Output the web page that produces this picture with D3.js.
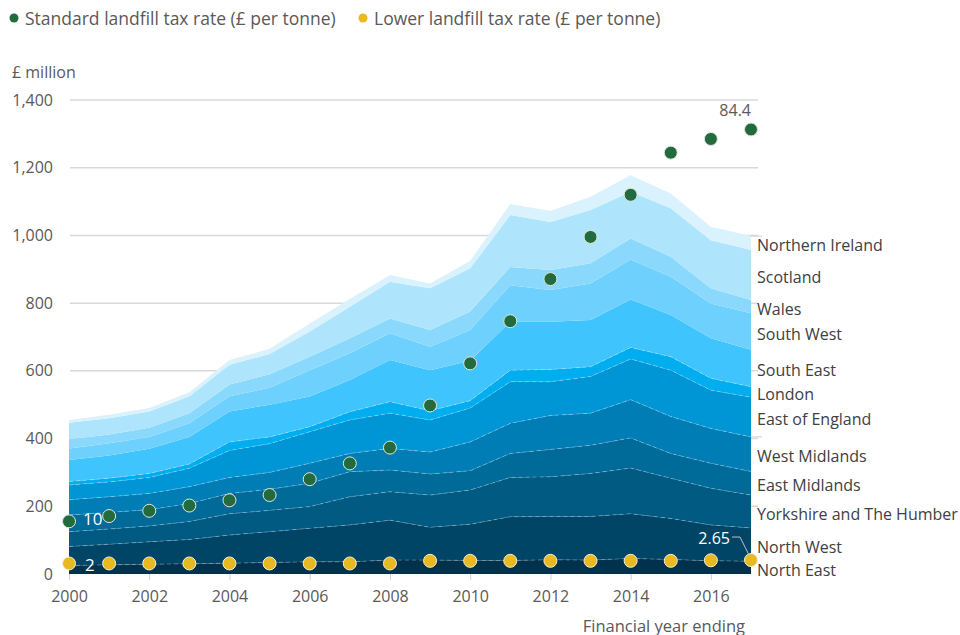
<!DOCTYPE html>
<html>
<head>
<meta charset="utf-8">
<script src="https://cdn.jsdelivr.net/npm/d3@7"></script>
<style>
  body { margin: 0; background: #fff; }
  text { font-family: "Open Sans", sans-serif; }
</style>
</head>
<body>
<svg id="chart" width="960" height="635"></svg>
<script>
// Financial year ending
const years = [2000, 2001, 2002, 2003, 2004, 2005, 2006, 2007, 2008,
               2009, 2010, 2011, 2012, 2013, 2014, 2015, 2016, 2017];

// Landfill tax receipts by region, £ million (stacked bottom to top)
const regions = ["North East", "North West", "Yorkshire and The Humber", "East Midlands",
                 "West Midlands", "East of England", "London", "South East", "South West",
                 "Wales", "Scotland", "Northern Ireland"];

const northEast   = [25, 27, 29, 30, 32, 34, 36, 36, 41, 41, 40, 40, 42, 41, 46, 43, 39, 38];
const northWest   = [56, 61, 66, 72, 83, 91, 99, 109, 118, 97, 107, 129, 128, 129, 132, 121, 106, 98];
const yorkshire   = [44, 45, 47, 53, 63, 63, 64, 83, 84, 95, 101, 116, 117, 127, 135, 119, 108, 97];
const eastMids    = [49, 49, 48, 53, 60, 62, 69, 74, 64, 62, 57, 71, 81, 83, 89, 73, 74, 70];
const westMids    = [45, 46, 48, 50, 47, 50, 59, 54, 64, 65, 85, 89, 100, 95, 113, 109, 103, 102];
const eastEngland = [44, 44, 47, 54, 80, 85, 93, 99, 104, 95, 100, 123, 100, 108, 120, 137, 113, 117];
const london      = [10, 11, 12, 13, 25, 20, 15, 24, 34, 27, 22, 34, 36, 29, 34, 40, 35, 31];
const southEast   = [64, 67, 73, 80, 90, 95, 89, 94, 123, 120, 118, 143, 141, 138, 142, 123, 118, 109];
const southWest   = [34, 36, 35, 40, 45, 50, 78, 79, 79, 69, 91, 108, 94, 108, 118, 113, 103, 108];
const wales       = [27, 26, 27, 30, 35, 40, 40, 44, 44, 50, 54, 54, 59, 60, 62, 59, 45, 39];
const scotland    = [49, 48, 48, 50, 58, 60, 74, 93, 108, 123, 128, 153, 142, 157, 138, 143, 142, 148];
const northernIrl = [8, 10, 10, 12, 14, 15, 24, 23, 20, 14, 22, 33, 32, 39, 49, 44, 40, 41];

// Landfill tax rates, £ per tonne
const standardRate = [10, 11, 12, 13, 14, 15, 18, 21, 24, 32, 40, 48, 56, 64, 72, 80, 82.6, 84.4];
const lowerRate    = [2, 2, 2, 2, 2, 2, 2, 2, 2, 2.5, 2.5, 2.5, 2.5, 2.5, 2.5, 2.5, 2.6, 2.65];

const yTicks = [0, 200, 400, 600, 800, 1000, 1200, 1400];
const xTicks = [2000, 2002, 2004, 2006, 2008, 2010, 2012, 2014, 2016];

const regionColours = ["#00324d", "#004566", "#005a82", "#006a99", "#007db5", "#0096d6",
                       "#00aeef", "#40c4fe", "#6dd0fd", "#8ad9fc", "#aee5fc", "#d9f2fd"];

const series = [northEast, northWest, yorkshire, eastMids, westMids, eastEngland,
                london, southEast, southWest, wales, scotland, northernIrl];

const table = years.map((yr, i) => {
  const row = { year: yr };
  regions.forEach((r, k) => { row[r] = series[k][i]; });
  return row;
});

const svg = d3.select("#chart");
const x = d3.scaleLinear().domain([2000, 2017]).range([69, 751]);
const y = d3.scaleLinear().domain([0, 1400]).range([574, 100]);
// Tax rate drawn against a secondary scale sharing the same vertical extent
const yRate = d3.scaleLinear().domain([0, 90]).range([574, 100]);

const grey = "#595959";

// Gridlines and y axis labels
const yAxis = d3.axisLeft(y).tickValues(yTicks).tickFormat(d3.format(",")).tickSize(0).tickPadding(0);
const yg = svg.append("g").attr("transform", "translate(53,0)").call(yAxis);
yg.select(".domain").remove();
yg.selectAll("text").attr("fill", grey).style("font-size", "16px").attr("font-family", "Open Sans");

svg.append("g").selectAll("line").data(yTicks.filter(d => d > 0)).join("line")
  .attr("x1", 70).attr("x2", 758)
  .attr("y1", d => y(d)).attr("y2", d => y(d))
  .attr("stroke", "#d9d9d9").attr("stroke-width", 1.5);

// Stacked areas
const stack = d3.stack().keys(regions);
const layers = stack(table);

const area = d3.area()
  .x(d => x(d.data.year))
  .y0(d => y(d[0]))
  .y1(d => y(d[1]));

svg.append("g").selectAll("path").data(layers).join("path")
  .attr("d", area)
  .attr("fill", (d, i) => regionColours[i]);

// Faint dashed separators between the lower bands
const boundary = d3.line().x(d => x(d.data.year)).y(d => y(d[1]));
svg.append("g").selectAll("path").data(layers.slice(0, 7)).join("path")
  .attr("d", boundary)
  .attr("fill", "none")
  .attr("stroke", "rgba(255,255,255,0.28)")
  .attr("stroke-width", 1)
  .attr("stroke-dasharray", "4,3");

// X axis
const xAxis = d3.axisBottom(x).tickValues(xTicks).tickFormat(d3.format("d")).tickSize(6).tickPadding(11);
const xg = svg.append("g").attr("transform", "translate(0,574)").call(xAxis);
xg.select(".domain").remove();
xg.selectAll("line").attr("stroke", "#d0d0d0");
xg.selectAll("text").attr("fill", grey).style("font-size", "16px").attr("font-family", "Open Sans");

// Tax rate points
const ratePoints = svg.append("g");
ratePoints.selectAll("circle.std").data(standardRate).join("circle")
  .attr("class", "std")
  .attr("cx", (d, i) => x(years[i])).attr("cy", d => yRate(d))
  .attr("r", 6.5).attr("fill", "#226b3e").attr("stroke", "#e6e6dc").attr("stroke-width", 1);
ratePoints.selectAll("circle.low").data(lowerRate).join("circle")
  .attr("class", "low")
  .attr("cx", (d, i) => x(years[i])).attr("cy", d => yRate(d))
  .attr("r", 6.5).attr("fill", "#e8b920").attr("stroke", "#f4f0dc").attr("stroke-width", 1);

// Value callouts on the rate series
const last = years.length - 1;
svg.append("text").attr("x", x(years[0]) + 14).attr("y", yRate(standardRate[0]) - 3)
  .attr("dominant-baseline", "central").attr("fill", "#fff").style("font-size", "17px")
  .text(standardRate[0]);
svg.append("text").attr("x", x(years[0]) + 16).attr("y", yRate(lowerRate[0]) + 1)
  .attr("dominant-baseline", "central").attr("fill", "#fff").style("font-size", "17px")
  .text(lowerRate[0]);
svg.append("text").attr("x", x(years[last])).attr("y", yRate(standardRate[last]) - 19)
  .attr("text-anchor", "end").attr("dominant-baseline", "central")
  .attr("fill", grey).style("font-size", "16px")
  .text(standardRate[last]);
svg.append("text").attr("x", x(years[last]) - 21).attr("y", yRate(lowerRate[last]) - 22)
  .attr("text-anchor", "end").attr("dominant-baseline", "central")
  .attr("fill", "#fff").style("font-size", "16px")
  .text(lowerRate[last]);
svg.append("path")
  .attr("d", `M${x(years[last]) - 19},${yRate(lowerRate[last]) - 23} h8 L${x(years[last]) - 2},${yRate(lowerRate[last]) - 5}`)
  .attr("fill", "none").attr("stroke", "#bfbfbf").attr("stroke-width", 1);

// Region labels at the right end, centred on each band
const lastLayerVals = layers.map(l => l[last]);
svg.append("g").selectAll("text").data(regions).join("text")
  .attr("x", 757)
  .attr("y", (d, i) => y((lastLayerVals[i][0] + lastLayerVals[i][1]) / 2) + 2)
  .attr("dominant-baseline", "central")
  .attr("fill", "#404040").style("font-size", "16px")
  .text(d => d);

// Short group markers on the right edge
[layers[11][last][1], layers[4][last][1]].forEach(v => {
  svg.append("line").attr("x1", 751).attr("x2", 762).attr("y1", y(v)).attr("y2", y(v))
    .attr("stroke", "#cfcfcf").attr("stroke-width", 1);
});

// Legend
const legend = [
  { label: "Standard landfill tax rate (£ per tonne)", colour: "#226b3e", x: 14 },
  { label: "Lower landfill tax rate (£ per tonne)", colour: "#e8b920", x: 363 }
];
const lg = svg.append("g").selectAll("g").data(legend).join("g");
lg.append("circle").attr("cx", d => d.x).attr("cy", 18).attr("r", 4.5).attr("fill", d => d.colour);
lg.append("text").attr("x", d => d.x + 11).attr("y", 18).attr("dominant-baseline", "central")
  .attr("fill", grey).style("font-size", "17.5px").text(d => d.label);

// Axis titles
svg.append("text").attr("x", 12).attr("y", 72).attr("dominant-baseline", "central")
  .attr("fill", grey).style("font-size", "16px").text("£ million");
svg.append("text").attr("x", 745).attr("y", 625).attr("text-anchor", "end").attr("dominant-baseline", "central")
  .attr("fill", grey).style("font-size", "16.5px").text("Financial year ending");
</script>
</body>
</html>
